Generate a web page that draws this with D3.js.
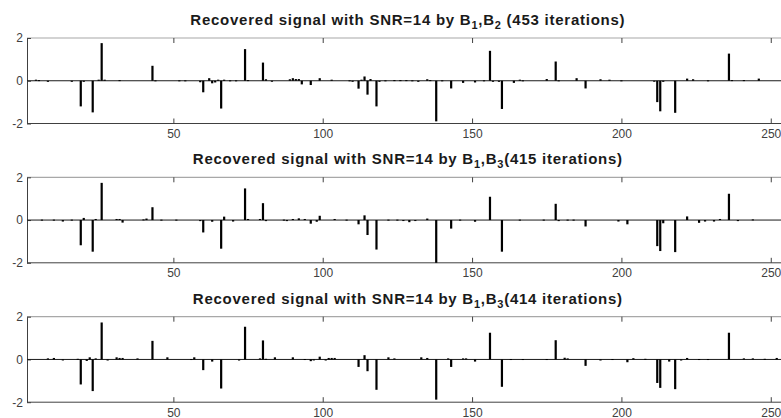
<!DOCTYPE html>
<html>
<head>
<meta charset="utf-8">
<script src="https://cdn.jsdelivr.net/npm/d3@7"></script>
<style>
  body { margin: 0; background: #fff; }
  svg { display: block; font-family: "Liberation Sans", Arial, sans-serif; }
</style>
</head>
<body>
<div id="chart_container"></div>
<script>
// chart dimensions
const W = 781, H = 418;
const PLOT_LEFT = 27;
const UNIT = 2.987;            // px per sample index
const PANEL_TOPS = [38, 177.3, 316.7];
const PANEL_H = 85.5;

// tick values
const xTicks = [50, 100, 150, 200, 250];
const yTicks = [-2, 0, 2];

// panel titles: [before subscript, sub1, middle, sub2, after]
const titles = [
  ["Recovered signal with SNR=14 by B", "1", ",B", "2", " (453 iterations)"],
  ["Recovered signal with SNR=14 by B", "1", ",B", "3", "(415 iterations)"],
  ["Recovered signal with SNR=14 by B", "1", ",B", "3", "(414 iterations)"],
];

// recovered signals, sparse [index, value] (all other samples are 0)
const signal1 = [
  [4, 0.05], [5, 0.03], [8, -0.05], [16, -0.05], [19, -1.2], [20, -0.05], [23, -1.48],
  [25, 0.05], [26, 1.76], [27, 0.05], [32, 0.03], [43, 0.7], [44, 0.02], [52, 0.02],
  [54, 0.02], [59, -0.07], [60, -0.54], [62, 0.12], [63, -0.12], [64, -0.08], [65, 0.05],
  [66, -1.3], [67, 0.05], [69, 0.02], [71, 0.02], [74, 1.48], [75, 0.03], [80, 0.85],
  [81, 0.07], [83, -0.02], [89, 0.07], [90, 0.12], [91, 0.08], [92, 0.08], [93, -0.17],
  [96, -0.2], [99, 0.12], [103, 0.05], [109, 0.02], [110, -0.05], [112, -0.37],
  [113, 0.05], [114, 0.2], [115, -0.65], [116, 0.08], [118, -1.2], [119, -0.05],
  [121, 0.02], [124, 0.03], [126, 0.03], [128, 0.03], [130, 0.02], [132, -0.05],
  [135, 0.07], [136, 0.03], [138, -1.9], [140, 0.02], [143, -0.36], [147, -0.1],
  [151, -0.08], [154, 0.02], [156, 1.4], [157, -0.05], [159, -0.05], [160, -1.32],
  [164, -0.1], [166, 0.05], [167, 0.02], [175, 0.08], [178, 0.9], [179, 0.02],
  [185, 0.12], [188, -0.36], [193, 0.07], [196, 0.05], [200, 0.02], [211, -0.02],
  [212, -1.0], [213, -1.43], [214, -0.05], [218, -1.5], [222, 0.1], [224, 0.07],
  [229, 0.02], [236, 1.27], [237, 0.03], [241, 0.03], [246, 0.1],
];

const signal2 = [
  [6, 0.02], [10, 0.02], [13, -0.07], [16, 0.02], [19, -1.18], [20, 0.1], [23, -1.48],
  [24, 0.05], [26, 1.74], [31, 0.05], [32, 0.05], [33, -0.12], [40, 0.03], [41, 0.07],
  [43, 0.6], [46, 0.02], [51, 0.02], [59, -0.05], [60, -0.58], [63, -0.08], [66, -1.34],
  [67, 0.16], [70, -0.07], [74, 1.48], [75, 0.05], [79, 0.05], [80, 0.79], [81, -0.05],
  [87, 0.02], [88, -0.05], [90, 0.05], [92, 0.08], [94, 0.05], [96, -0.17], [98, -0.08],
  [99, 0.2], [104, 0.05], [108, 0.02], [112, -0.2], [114, 0.22], [115, -0.7],
  [118, -1.38], [122, 0.02], [125, 0.02], [127, -0.03], [129, -0.1], [131, -0.02],
  [135, 0.07], [138, -2.0], [143, -0.4], [146, 0.02], [151, -0.08], [156, 1.09],
  [160, -1.48], [166, 0.02], [174, 0.02], [178, 0.76], [179, -0.05], [182, 0.02],
  [184, 0.02], [188, -0.3], [199, -0.07], [202, -0.2], [212, -1.22], [213, -1.45],
  [214, -0.15], [218, -1.5], [222, 0.17], [226, -0.13], [228, -0.07], [231, -0.07],
  [233, 0.05], [236, 1.23], [239, -0.05], [244, 0.03],
];

const signal3 = [
  [8, 0.05], [10, 0.07], [13, -0.03], [18, 0.03], [19, -1.17], [21, -0.07], [22, 0.1],
  [23, -1.48], [24, 0.05], [26, 1.73], [28, -0.05], [31, 0.1], [32, 0.07], [33, 0.07],
  [38, 0.05], [43, 0.87], [48, 0.1], [56, 0.02], [57, 0.1], [60, -0.5], [63, -0.1],
  [66, -1.36], [72, -0.05], [74, 1.53], [79, 0.05], [80, 0.89], [81, 0.03], [84, 0.1],
  [90, 0.1], [94, 0.02], [96, -0.08], [97, -0.03], [99, 0.13], [101, -0.05], [102, 0.07],
  [103, 0.07], [104, 0.07], [112, -0.35], [114, 0.2], [115, -0.55], [118, -1.42],
  [122, 0.1], [124, 0.05], [133, 0.1], [135, 0.07], [138, -1.88], [142, 0.05],
  [143, -0.35], [147, 0.05], [148, 0.05], [151, -0.1], [156, 1.25], [160, -1.28],
  [163, 0.02], [167, 0.02], [175, 0.02], [178, 0.9], [181, 0.08], [182, 0.05],
  [188, -0.3], [193, -0.05], [197, 0.02], [202, -0.13], [204, 0.06], [208, 0.03],
  [212, -1.1], [213, -1.33], [216, -0.1], [218, -1.39], [220, -0.05], [222, 0.07],
  [226, 0.02], [229, 0.02], [236, 1.25], [241, 0.05], [244, 0.05], [248, 0.03],
  [252, 0.07],
];

const signals = [signal1, signal2, signal3];

const svg = d3.select("#chart_container")
  .append("svg")
  .attr("width", W)
  .attr("height", H);

const x = d3.scaleLinear()
  .domain([1, 256])
  .range([PLOT_LEFT, PLOT_LEFT + 255 * UNIT]);

const styleTickText = (sel) => sel
  .style("font-size", "12px")
  .style("fill", "#404040")
  .style("font-family", "'Liberation Sans', Arial, sans-serif");

signals.forEach((data, i) => {
  const top = PANEL_TOPS[i];
  const y = d3.scaleLinear().domain([-2, 2]).range([top + PANEL_H, top]);
  const g = svg.append("g");

  // title with subscripts
  const t = titles[i];
  const title = g.append("text")
    .attr("x", x(128.5))
    .attr("y", top - 13)
    .attr("text-anchor", "middle")
    .style("font-size", "15px")
    .style("letter-spacing", "0.75px")
    .style("font-weight", 700)
    .style("fill", "#1a1a1a");
  title.append("tspan").text(t[0]);
  title.append("tspan").attr("dy", 4).style("font-size", "11px").text(t[1]);
  title.append("tspan").attr("dy", -4).text(t[2]);
  title.append("tspan").attr("dy", 4).style("font-size", "11px").text(t[3]);
  title.append("tspan").attr("dy", -4).text(t[4]);

  // top border (lighter)
  g.append("line")
    .attr("x1", PLOT_LEFT).attr("x2", W)
    .attr("y1", top).attr("y2", top)
    .attr("stroke", "#a8a8a8").attr("stroke-width", 1.2);

  // bottom axis
  const xAxis = g.append("g")
    .attr("transform", `translate(0,${top + PANEL_H})`)
    .call(d3.axisBottom(x).tickValues(xTicks).tickSizeInner(-5).tickSizeOuter(0).tickPadding(6));
  xAxis.select(".domain").attr("stroke", "#404040").attr("d", `M${PLOT_LEFT},0H${W}`);
  xAxis.selectAll(".tick line").attr("stroke", "#404040");
  xAxis.selectAll("text").call(styleTickText);

  // top inward ticks
  g.append("g")
    .attr("transform", `translate(0,${top})`)
    .call(d3.axisTop(x).tickValues(xTicks).tickSizeInner(-5).tickSizeOuter(0).tickFormat(""))
    .call((a) => a.select(".domain").remove())
    .selectAll(".tick line").attr("stroke", "#404040");

  // left axis
  const yAxis = g.append("g")
    .attr("transform", `translate(${PLOT_LEFT},0)`)
    .call(d3.axisLeft(y).tickValues(yTicks).tickFormat((d) => String(d))
      .tickSizeInner(-4).tickSizeOuter(0).tickPadding(4));
  yAxis.select(".domain").attr("stroke", "#404040");
  yAxis.selectAll(".tick line").attr("stroke", "#404040");
  yAxis.selectAll("text").call(styleTickText);

  // baseline
  g.append("line")
    .attr("x1", PLOT_LEFT).attr("x2", W)
    .attr("y1", y(0)).attr("y2", y(0))
    .attr("stroke", "#1a1a1a").attr("stroke-width", 1);

  // bars
  g.selectAll(".bar")
    .data(data)
    .enter()
    .append("rect")
    .attr("class", "bar")
    .attr("x", (d) => x(d[0]) - 1.1)
    .attr("width", 2.2)
    .attr("y", (d) => y(Math.max(0, d[1])))
    .attr("height", (d) => Math.max(1, Math.abs(y(d[1]) - y(0))))
    .attr("fill", "#000");
});
</script>
</body>
</html>
